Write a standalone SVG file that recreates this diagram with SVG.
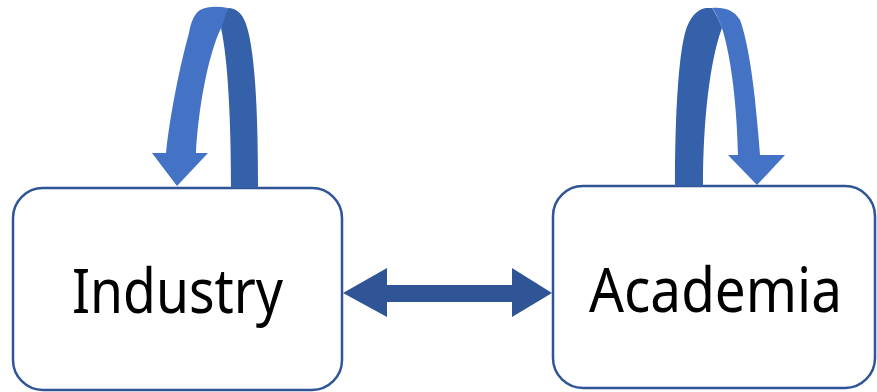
<svg xmlns="http://www.w3.org/2000/svg" width="877" height="392" viewBox="0 0 877 392">
<style>
.box{fill:#fff;stroke:#2F5597;stroke-width:2.5}
.lbl{font-family:"Noto Sans","Open Sans","Liberation Sans",sans-serif;font-size:62px;fill:#000}
.dark{fill:#3461AA}
.light{fill:#4472C4}
.conn{fill:#2F5597}
</style>
<rect width="877" height="392" fill="#fff"/>
<g id="industry">
<rect class="box" x="13" y="188" width="329" height="202" rx="30" ry="30"/>
<text class="lbl" x="72" y="313" textLength="211" lengthAdjust="spacingAndGlyphs">Industry</text>
</g>
<g id="academia">
<rect class="box" x="553" y="186" width="322" height="202" rx="30" ry="30"/>
<text class="lbl" x="589" y="312" textLength="253" lengthAdjust="spacingAndGlyphs">Academia</text>
</g>
<g id="connectors">
<g id="loop-industry">
<path class="dark" d="M231,188 L258,188 C258,110 255,50 246,24 C242,13 236,8 228,8 C225,14 222,22 221,28 C228,60 231,120 231,188 Z"/>
<path class="light" d="M228,8 C218,6 208,6 200,10 C194,14 191,22 189,33 C180,65 170,115 166,153 L152,153 L177,186 L208,153 L196,153 C198,110 208,55 221,28 C224,21 226,14 228,8 Z"/>
</g>
<g id="loop-academia">
<path class="dark" d="M703,186 L675,186 C675,120 678,60 685,33 C689,18 697,9 706,8 L712,8 C716,14 720,22 722,28 C710,60 703,120 703,186 Z"/>
<path class="light" d="M712,8 C724,7 734,10 740,20 C746,35 752,70 755,100 C757,120 759,140 760,155 L785,155 L757,185 L728,155 L738,155 C737,110 732,60 722,28 C719,20 716,13 712,8 Z"/>
</g>
<path id="link" class="conn" d="M343,293 L387,268 L387,285 L512,285 L512,268 L552,293 L512,317 L512,302 L387,302 L387,317 Z"/>
</g>
</svg>
